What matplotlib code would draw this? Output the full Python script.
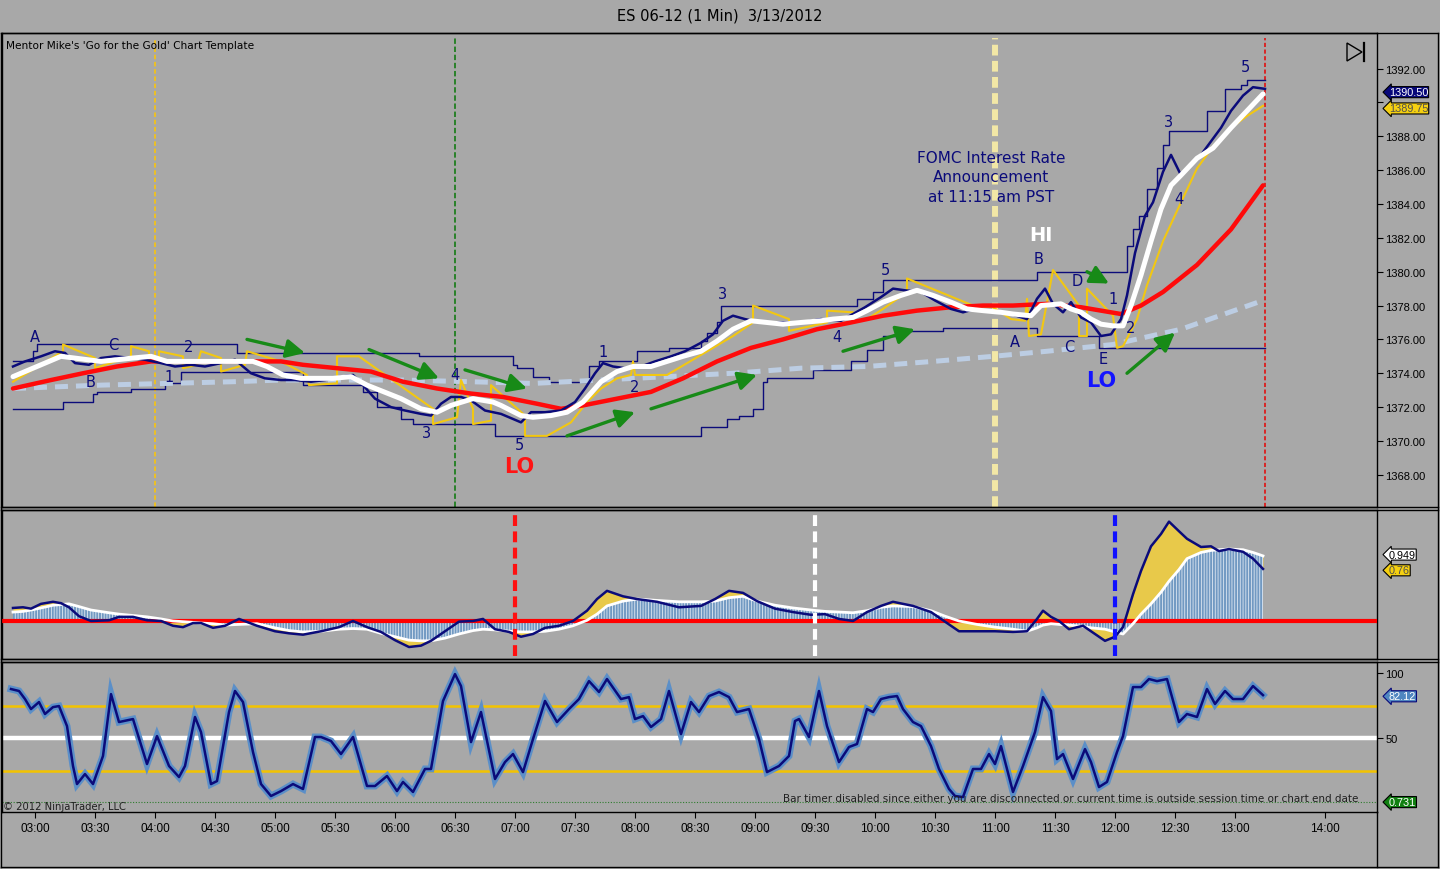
import numpy as np
import matplotlib
matplotlib.use("Agg")
import matplotlib.pyplot as plt
from matplotlib.lines import Line2D
from matplotlib.patches import Polygon

# ---------------- data ----------------
TITLE = "ES 06-12 (1 Min)  3/13/2012"
X_TICKS = ["03:00", "03:30", "04:00", "04:30", "05:00", "05:30", "06:00", "06:30",
           "07:00", "07:30", "08:00", "08:30", "09:00", "09:30", "10:00", "10:30",
           "11:00", "11:30", "12:00", "12:30", "13:00", "14:00"]
PRICE_TICKS = [1368, 1370, 1372, 1374, 1376, 1378, 1380, 1382, 1384, 1386, 1388, 1390, 1392]
HIDDEN_PRICE_LABELS = [1390]   # covered by the last-price tags
STOCH_TICKS = [50, 100]

FAST = [("02:49",1374.4),("02:55",1374.7),("03:03",1375.0),("03:10",1375.3),("03:15",1375.2),("03:20",1374.6),
        ("03:27",1374.5),("03:33",1374.9),("03:40",1375.0),("03:48",1374.9),("03:55",1374.8),("04:03",1374.6),
        ("04:10",1374.4),("04:18",1374.5),("04:25",1374.4),("04:33",1374.6),("04:40",1374.8),("04:48",1374.0),
        ("04:55",1373.7),("05:03",1373.6),("05:10",1373.6),("05:18",1373.5),("05:25",1373.6),("05:33",1373.8),
        ("05:39",1373.9),("05:44",1373.3),("05:50",1372.5),("05:58",1372.0),("06:05",1371.8),("06:13",1371.6),
        ("06:18",1371.5),("06:23",1372.2),("06:28",1372.6),("06:33",1372.6),("06:38",1372.4),("06:45",1371.8),
        ("06:53",1371.6),("06:59",1371.3),("07:03",1371.1),("07:08",1371.7),("07:15",1371.7),("07:23",1371.8),
        ("07:30",1372.3),("07:35",1373.1),("07:40",1374.0),("07:44",1374.6),("07:49",1374.4),("07:55",1374.3),
        ("08:03",1374.4),("08:10",1374.7),("08:18",1375.0),("08:25",1375.3),("08:33",1375.8),("08:39",1376.3),
        ("08:44",1377.1),("08:49",1377.4),("08:55",1377.2),("09:03",1377.0),("09:13",1377.0),("09:23",1377.0),
        ("09:33",1377.2),("09:43",1377.1),("09:49",1377.5),("09:55",1377.9),("10:03",1378.5),("10:09",1379.0),
        ("10:15",1378.9),("10:23",1378.8),("10:30",1378.3),("10:38",1377.8),("10:44",1377.6),("10:50",1377.8),
        ("11:00",1377.6),("11:08",1377.5),("11:16",1377.2),("11:21",1378.4),("11:25",1379.0),("11:29",1378.1),
        ("11:34",1377.6),("11:38",1378.2),("11:43",1377.3),("11:48",1377.0),("11:53",1376.2),("11:58",1376.3),
        ("12:03",1377.2),("12:06",1378.6),("12:10",1381.1),("12:15",1383.3),("12:19",1384.1),("12:24",1385.9),
        ("12:28",1386.9),("12:33",1385.7),("12:38",1386.3),("12:43",1386.9),("12:48",1387.7),("12:53",1388.5),
        ("12:58",1389.5),("13:04",1390.4),("13:09",1390.9),("13:15",1390.8)]

WHITE_MA = [("02:49",1373.8),("03:13",1375.0),("03:33",1374.7),("03:49",1374.9),("03:58",1375.0),("04:06",1374.7),
            ("04:23",1374.7),("04:39",1374.7),("04:49",1374.7),("04:56",1374.4),("05:04",1373.9),("05:13",1373.7),
            ("05:29",1373.7),("05:38",1373.8),("05:46",1373.3),("06:03",1372.5),("06:13",1371.9),("06:21",1371.7),
            ("06:28",1372.1),("06:39",1372.5),("06:49",1372.3),("06:53",1372.1),("07:03",1371.5),("07:09",1371.4),
            ("07:18",1371.5),("07:26",1371.7),("07:34",1372.3),("07:43",1373.5),("07:51",1374.1),("07:59",1374.4),
            ("08:08",1374.4),("08:16",1374.7),("08:24",1375.0),("08:33",1375.3),("08:41",1375.9),("08:49",1376.6),
            ("08:58",1377.1),("09:06",1377.0),("09:14",1376.9),("09:23",1377.0),("09:33",1377.1),("09:39",1377.2),
            ("09:49",1377.3),("09:56",1377.7),("10:04",1378.2),("10:13",1378.6),("10:21",1378.9),("10:29",1378.6),
            ("10:38",1378.2),("10:46",1377.8),("10:54",1377.7),("11:03",1377.6),("11:09",1377.5),("11:18",1377.4),
            ("11:23",1378.0),("11:33",1378.1),("11:38",1377.8),("11:43",1377.6),("11:48",1377.2),("11:53",1376.9),
            ("11:59",1376.8),("12:04",1376.8),("12:08",1378.0),("12:13",1379.8),("12:18",1381.8),("12:23",1383.7),
            ("12:28",1385.1),("12:33",1385.7),("12:41",1386.7),("12:49",1387.3),("12:58",1388.5),("13:06",1389.5),
            ("13:14",1390.5)]

RED_MA = [("02:49",1373.1),("03:08",1373.6),("03:24",1374.0),("03:41",1374.4),("03:58",1374.7),("04:06",1374.7),
          ("04:23",1374.7),("04:39",1374.7),("05:03",1374.7),("05:14",1374.5),("05:31",1374.3),("05:48",1374.1),
          ("06:04",1373.5),("06:21",1373.1),("06:38",1372.8),("06:54",1372.6),("07:11",1372.2),("07:23",1371.9),
          ("07:34",1372.1),("07:51",1372.5),("08:08",1372.9),("08:24",1373.7),("08:41",1374.7),("08:58",1375.5),
          ("09:14",1376.0),("09:31",1376.6),("09:48",1377.0),("10:04",1377.4),("10:21",1377.7),("10:38",1377.9),
          ("10:54",1378.0),("11:09",1378.0),("11:26",1378.1),("11:43",1377.9),("12:03",1377.5),("12:13",1378.0),
          ("12:24",1378.8),("12:41",1380.4),("12:58",1382.5),("13:14",1385.1)]

SLOW_MA = [("02:49",1373.1),("03:33",1373.3),("04:06",1373.4),("04:39",1373.5),("05:03",1373.6),("06:04",1373.6),
           ("06:38",1373.5),("07:09",1373.4),("07:43",1373.6),("08:16",1373.8),("08:49",1374.0),("09:23",1374.3),
           ("09:56",1374.4),("10:29",1374.7),("10:59",1375.0),("11:26",1375.3),("11:59",1375.7),("12:33",1376.6),
           ("13:14",1378.3)]

YELLOW = [("02:49",1373.5),("03:14",1375.3),("03:14",1375.7),("03:30",1374.9),("03:30",1374.3),("03:48",1375.0),
          ("03:48",1375.6),("03:57",1375.3),("03:57",1374.7),("04:02",1374.7),("04:02",1375.3),("04:14",1375.0),
          ("04:14",1374.3),("04:21",1374.5),("04:23",1375.3),("04:33",1374.9),("04:33",1374.1),("04:45",1374.5),
          ("04:46",1375.3),("05:03",1374.7),("05:16",1373.9),("05:17",1373.3),("05:31",1373.4),("05:31",1375.0),
          ("05:42",1375.0),("06:19",1371.9),("06:19",1371.0),("06:31",1371.4),("06:33",1373.6),("06:39",1371.9),
          ("06:39",1371.0),("06:48",1371.2),("06:48",1373.3),("07:05",1371.5),("07:05",1370.3),("07:16",1370.3),
          ("07:28",1371.1),("07:36",1372.3),("07:43",1373.1),("07:51",1373.7),("07:58",1373.9),("07:59",1374.7),
          ("08:00",1373.9),("08:16",1373.9),("08:39",1375.5),("08:49",1376.2),("08:59",1377.0),("08:59",1378.0),
          ("09:17",1377.2),("09:17",1376.5),("09:36",1377.0),("09:36",1377.7),("09:49",1377.6),("09:49",1377.0),
          ("09:56",1377.2),("10:04",1377.8),("10:16",1378.8),("10:16",1379.6),("10:49",1378.0),("10:59",1377.9),
          ("11:08",1377.2),("11:15",1377.1),("11:16",1378.4),("11:17",1376.2),("11:23",1376.3),("11:29",1380.1),
          ("11:42",1378.0),("11:42",1376.2),("11:46",1376.2),("11:46",1379.0),("11:59",1377.4),("12:01",1375.5),
          ("12:04",1375.6),("12:11",1377.2),("12:16",1379.2),("12:24",1381.8),("12:33",1384.1),("12:41",1386.1),
          ("12:49",1387.4),("12:58",1388.5),("13:06",1389.2),("13:14",1389.8)]

UPPER = [("02:49",1374.7),("02:59",1375.3),("03:01",1375.7),("04:41",1375.2),("06:12",1375.0),("06:59",1374.5),
         ("07:01",1374.3),("07:09",1373.8),("07:17",1373.5),("07:37",1374.4),("07:42",1374.7),("08:01",1375.3),
         ("08:17",1375.5),("08:33",1375.9),("08:36",1376.4),("08:41",1377.0),("08:43",1378.0),("09:51",1378.4),
         ("09:59",1378.8),("10:04",1379.5),("11:21",1380.0),("12:06",1381.5),("12:09",1382.5),("12:12",1383.3),
         ("12:16",1384.9),("12:21",1386.1),("12:24",1387.5),("12:27",1388.3),("12:46",1389.5),("12:55",1390.8),
         ("13:03",1391.0),("13:06",1391.3),("13:15",1391.3)]

LOWER = [("02:49",1371.9),("03:14",1372.3),("03:29",1372.8),("03:31",1372.9),("03:48",1373.1),("04:05",1373.4),
         ("04:13",1374.1),("05:14",1373.3),("05:44",1372.9),("05:51",1372.0),("06:03",1371.3),("06:09",1371.0),
         ("06:50",1370.3),("08:33",1370.8),("08:46",1371.3),("08:52",1371.5),("08:59",1371.9),("09:04",1373.5),
         ("09:06",1373.7),("09:29",1374.2),("09:48",1374.7),("09:56",1375.4),("10:04",1376.2),("10:11",1376.5),
         ("10:34",1376.7),("11:21",1376.2),("11:52",1375.5),("13:15",1375.5)]

# (time, macd line, signal line)
MACD = [("02:49",0.19,0.13),("02:54",0.20,0.14),("02:58",0.18,0.16),("03:03",0.25,0.19),("03:09",0.28,0.23),
        ("03:13",0.26,0.24),("03:17",0.20,0.25),("03:22",0.07,0.21),("03:28",0.00,0.16),("03:37",0.01,0.12),
        ("03:42",0.06,0.10),("03:49",0.06,0.08),("03:56",0.01,0.06),("04:03",0.00,0.03),("04:09",-0.07,0.00),
        ("04:14",-0.09,-0.01),("04:19",-0.03,-0.02),("04:23",-0.03,-0.03),("04:29",-0.10,-0.04),("04:35",-0.07,-0.06),
        ("04:42",0.03,-0.05),("04:51",-0.07,-0.04),("05:00",-0.15,-0.10),("05:07",-0.18,-0.14),("05:14",-0.20,-0.16),
        ("05:23",-0.15,-0.15),("05:32",-0.09,-0.12),("05:39",0.00,-0.11),("05:46",-0.09,-0.12),("05:53",-0.16,-0.18),
        ("06:00",-0.28,-0.23),("06:07",-0.38,-0.28),("06:13",-0.36,-0.29),("06:18",-0.29,-0.29),("06:25",-0.15,-0.25),
        ("06:32",-0.01,-0.19),("06:39",0.00,-0.14),("06:44",0.03,-0.12),("06:50",-0.12,-0.13),("06:57",-0.16,-0.15),
        ("07:03",-0.23,-0.16),("07:09",-0.19,-0.16),("07:15",-0.10,-0.15),("07:22",-0.07,-0.12),("07:29",0.00,-0.07),
        ("07:36",0.15,0.01),("07:41",0.32,0.10),("07:46",0.44,0.22),("07:54",0.36,0.29),("08:01",0.32,0.32),
        ("08:11",0.28,0.30),("08:22",0.20,0.28),("08:33",0.22,0.28),("08:40",0.32,0.29),("08:47",0.44,0.34),
        ("08:54",0.41,0.36),("09:01",0.29,0.29),("09:10",0.18,0.23),("09:19",0.13,0.19),("09:28",0.09,0.16),
        ("09:35",0.10,0.14),("09:42",0.03,0.13),("09:49",0.00,0.12),("09:56",0.13,0.15),("10:03",0.22,0.20),
        ("10:09",0.28,0.22),("10:19",0.22,0.21),("10:28",0.13,0.15),("10:35",-0.01,0.07),("10:42",-0.15,0.00),
        ("10:51",-0.15,-0.05),("11:00",-0.15,-0.09),("11:09",-0.16,-0.12),("11:16",-0.15,-0.15),("11:21",0.03,-0.10),
        ("11:24",0.15,-0.06),("11:28",0.06,-0.04),("11:32",0.00,-0.05),("11:37",-0.12,-0.06),("11:44",-0.07,-0.08),
        ("11:48",-0.15,-0.10),("11:55",-0.29,-0.12),("12:00",-0.23,-0.16),("12:04",-0.09,-0.19),("12:09",0.39,-0.04),
        ("12:13",0.73,0.10),("12:18",1.09,0.25),("12:23",1.27,0.42),("12:27",1.45,0.58),("12:32",1.31,0.75),
        ("12:36",1.20,0.91),("12:43",1.08,1.00),("12:48",1.09,1.03),("12:52",1.02,1.04),("12:57",1.05,1.05),
        ("13:04",1.01,1.04),("13:09",0.91,1.00),("13:14",0.76,0.95)]

STOCH = [("02:48",87.7),("02:52",86.2),("02:55",80.0),("02:58",72.3),("03:02",77.7),("03:05",68.5),("03:09",73.8),
         ("03:12",74.6),("03:16",59.2),("03:19",28.5),("03:21",14.6),("03:25",22.3),("03:29",14.6),("03:34",36.2),
         ("03:38",83.8),("03:42",62.3),("03:49",64.6),("03:56",30.0),("04:01",51.5),("04:07",28.5),("04:12",20.0),
         ("04:15",28.5),("04:20",66.2),("04:23",54.6),("04:28",14.6),("04:31",16.9),("04:37",70.0),("04:40",86.2),
         ("04:44",77.7),("04:49",39.2),("04:53",14.6),("04:58",5.4),("05:03",9.2),("05:09",14.6),("05:14",10.8),
         ("05:20",50.8),("05:23",50.8),("05:28",47.7),("05:33",37.7),("05:39",50.8),("05:46",13.1),("05:50",13.1),
         ("05:56",20.8),("06:01",9.2),("06:04",16.2),("06:09",8.5),("06:15",26.2),("06:18",26.2),("06:24",78.5),
         ("06:30",99.2),("06:33",90.0),("06:38",46.9),("06:43",70.0),("06:50",18.5),("06:55",31.5),("06:59",37.7),
         ("07:04",23.8),("07:09",49.2),("07:15",78.5),("07:21",62.3),("07:27",72.3),("07:32",80.0),("07:37",93.8),
         ("07:42",85.4),("07:46",95.4),("07:53",80.0),("07:57",81.5),("08:00",64.6),("08:04",66.9),("08:08",58.5),
         ("08:13",64.6),("08:17",86.2),("08:23",53.0),("08:28",77.7),("08:32",70.0),("08:37",82.3),("08:42",85.4),
         ("08:47",81.5),("08:51",70.0),("08:57",72.3),("09:02",49.2),("09:06",23.8),("09:12",28.5),("09:17",36.2),
         ("09:20",63.1),("09:22",64.6),("09:27",50.8),("09:32",86.2),("09:36",59.2),("09:42",31.5),("09:47",43.1),
         ("09:51",45.4),("09:56",72.3),("09:59",70.0),("10:03",80.0),("10:07",81.5),("10:11",82.3),("10:14",72.3),
         ("10:19",62.3),("10:23",59.2),("10:28",43.8),("10:32",26.2),("10:37",10.8),("10:40",5.4),("10:44",4.6),
         ("10:49",26.2),("10:53",26.2),("10:57",37.7),("11:00",30.0),("11:03",43.8),("11:09",8.5),("11:14",28.5),
         ("11:20",54.6),("11:24",81.5),("11:28",70.8),("11:31",33.8),("11:34",37.7),("11:39",18.5),("11:45",41.5),
         ("11:48",31.5),("11:52",12.3),("11:56",16.2),("12:01",39.2),("12:04",51.5),("12:09",89.2),("12:13",89.2),
         ("12:17",95.4),("12:21",93.8),("12:26",95.4),("12:32",62.3),("12:36",68.5),("12:41",66.2),("12:46",87.7),
         ("12:50",76.2),("12:55",86.2),("12:59",80.0),("13:04",80.0),("13:09",90.0),("13:14",83.0)]

STOCH_LEVELS = [25, 50, 75]
TIMER_LEVEL = 0.731

WAVE_LABELS = [("A","03:00",1376.2),("B","03:28",1373.5),("C","03:39",1375.7),("1","04:07",1373.8),
               ("2","04:17",1375.6),("3","06:16",1370.5),("4","06:30",1373.9),("5","07:02",1369.8),
               ("1","07:44",1375.3),("2","08:00",1373.2),("3","08:44",1378.7),("4","09:41",1376.2),
               ("5","10:05",1380.1),("B","11:22",1380.8),("A","11:10",1375.9),("C","11:37",1375.6),
               ("D","11:41",1379.5),("E","11:54",1374.9),("1","11:59",1378.4),("2","12:08",1376.7),
               ("3","12:27",1388.9),("4","12:32",1384.3),("5","13:05",1392.1)]

ARROWS = [("04:46",1376.0,"05:15",1375.2),("05:47",1375.4,"06:22",1373.7),("06:35",1374.2,"07:06",1373.1),
          ("07:26",1370.3,"08:00",1371.7),("08:08",1371.9,"09:01",1373.9),("09:44",1375.3,"10:20",1376.6),
          ("11:46",1380.0,"11:57",1379.3),("12:06",1374.0,"12:30",1376.4)]

TOP_VLINES = ["04:00", "06:30", "11:00", "13:15"]
MID_VLINES = ["07:00", "09:30", "12:00"]

LAST_PRICE = 1390.50
LAST_YELLOW = 1389.75
LAST_SIGNAL = 0.949
LAST_MACD = 0.76
LAST_STOCH = 82.12

# ---------------- helpers ----------------
def slot(t):
    h, m = map(int, t.split(":"))
    v = (h - 3) * 60 + m
    if h * 60 + m >= 13 * 60 + 30:   # session halt 13:15-13:30 not shown
        v -= 15
    return v

def xy(series):
    return [slot(t) for t, _ in series], [v for _, v in series]

BG = "#a8a8a8"
NAVY = "#0b0b7a"
W, H = 1440, 870

def fx(px):
    return px / W

def fy(py):
    return 1 - py / H

plt.rcParams["font.family"] = ["DejaVu Sans"]
plt.rcParams["hatch.linewidth"] = 0.6
fig = plt.figure(figsize=(14.4, 8.7), dpi=100, facecolor=BG)

ax1 = fig.add_axes([fx(2), fy(508), fx(1375), 474 / H])
ax2 = fig.add_axes([fx(2), fy(660), fx(1375), 149 / H], sharex=ax1)
ax3 = fig.add_axes([fx(2), fy(813), fx(1375), 150 / H], sharex=ax1)

for ax in (ax1, ax2, ax3):
    ax.set_facecolor(BG)
    for s in ax.spines.values():
        s.set_color("black")
        s.set_linewidth(1.0)

ax1.set_xlim(-16.5, 671)
ax1.set_ylim(1366.1, 1394.1)
ax2.set_ylim(-0.555, 1.62)
ax3.set_ylim(-6.9, 108.5)

# ---------------- top panel ----------------
ut, uv = xy(UPPER)
lt, lv = xy(LOWER)
ax1.step(ut, uv, where="post", color=NAVY, lw=1.0, zorder=2)
ax1.step(lt, lv, where="post", color=NAVY, lw=1.0, zorder=2)

st, sv = xy(SLOW_MA)
ax1.plot(st, sv, color="#bccde3", lw=3.6, dashes=(2.6, 1.6), zorder=3, solid_capstyle="butt")

yt, yv = xy(YELLOW)
ax1.plot(yt, yv, color="#f2c712", lw=1.5, zorder=4)

rt, rv = xy(RED_MA)
ax1.plot(rt, rv, color="#ff0a0a", lw=3.2, zorder=5, solid_capstyle="round")

ft, fv = xy(FAST)
ax1.plot(ft, fv, color=NAVY, lw=1.8, zorder=6)

wt, wv = xy(WHITE_MA)
ax1.plot(wt, wv, color="white", lw=3.6, zorder=7, solid_capstyle="round")

vstyles = [dict(color="#f3c21a", lw=1.3, dashes=(2.5, 1.5)),
           dict(color="#1f7f1f", lw=1.3, dashes=(3, 1.5)),
           dict(color="#f2e7a6", lw=4.3, dashes=(1.8, 0.9)),
           dict(color="#e01010", lw=1.2, dashes=(2.5, 1.5))]
for t, sty in zip(TOP_VLINES, vstyles):
    ax1.axvline(slot(t), ymin=0.0, ymax=0.99, zorder=1.5, **sty)

for txt, t, p in WAVE_LABELS:
    ax1.text(slot(t), p, txt, color=NAVY, fontsize=10.5, ha="center", va="center", zorder=9)

ax1.text(slot("07:02"), 1368.5, "LO", color="#ff1414", fontsize=15, fontweight="bold",
         ha="center", va="center", zorder=9)
ax1.text(slot("11:53"), 1373.6, "LO", color="#1414ff", fontsize=15, fontweight="bold",
         ha="center", va="center", zorder=9)
ax1.text(slot("11:23"), 1382.2, "HI", color="white", fontsize=14, fontweight="bold",
         ha="center", va="center", zorder=9)
ax1.text(slot("10:58"), 1385.6, "FOMC Interest Rate\nAnnouncement\nat 11:15 am PST", color=NAVY,
         fontsize=11, ha="center", va="center", linespacing=1.4, zorder=9)

for t0, p0, t1, p1 in ARROWS:
    ax1.annotate("", xy=(slot(t1), p1), xytext=(slot(t0), p0),
                 arrowprops=dict(arrowstyle="-|>,head_length=0.7,head_width=0.35",
                                 color="#178a17", lw=2.4, mutation_scale=16, shrinkA=0, shrinkB=0),
                 zorder=8)

ax1.yaxis.tick_right()
ax1.set_yticks(PRICE_TICKS)
ax1.set_yticklabels(["" if v in HIDDEN_PRICE_LABELS else f"{v:.2f}" for v in PRICE_TICKS],
                    fontfamily="Liberation Sans")
ax1.tick_params(axis="y", length=4, pad=2, labelsize=8, colors="black")
ax1.tick_params(axis="x", bottom=False, labelbottom=False)

def tag(ax, val, txt, fc, tc, ec="black", dy=0.0):
    ax.annotate(txt, xy=(1.0085, val), xycoords=ax.get_yaxis_transform(),
                xytext=(0, dy), textcoords="offset points", ha="left", va="center",
                fontsize=7.8, color=tc, fontfamily="Liberation Sans", zorder=10,
                annotation_clip=False,
                bbox=dict(boxstyle="larrow,pad=0.05", fc=fc, ec=ec, lw=0.8))

tag(ax1, LAST_PRICE, f"{LAST_PRICE:.2f}", "#08087a", "white", dy=1.3)
tag(ax1, LAST_YELLOW, f"{LAST_YELLOW:.2f}", "#f5d010", "#505050", dy=-1.3)

ax1.text(0.003, 0.975, "Mentor Mike's 'Go for the Gold' Chart Template", transform=ax1.transAxes,
         fontsize=7.6, color="black", ha="left", va="center")

# ---------------- middle panel ----------------
mt = [slot(r[0]) for r in MACD]
mv = np.array([r[1] for r in MACD])
sg = np.array([r[2] for r in MACD])
ax2.fill_between(mt, mv, sg, color="#e8c94a", lw=0, zorder=2)
ax2.fill_between(mt, 0, sg, facecolor="#7199c2", edgecolor="#dfe8f2", hatch="||||||", lw=0, zorder=3)
ax2.axhline(0, color="#ff0000", lw=3.0, zorder=4)
ax2.plot(mt, sg, color="white", lw=2.0, zorder=5)
ax2.plot(mt, mv, color=NAVY, lw=1.8, zorder=6)
for t, c in zip(MID_VLINES, ["#ff1010", "white", "#1010ff"]):
    ax2.axvline(slot(t), ymin=0.02, ymax=0.97, color=c, lw=3.0, dashes=(2.6, 1.3), zorder=7)
ax2.tick_params(axis="both", left=False, right=False, bottom=False, labelleft=False, labelbottom=False)
tag(ax2, LAST_SIGNAL, f"{LAST_SIGNAL:.3f}", "white", "black", dy=1.0)
tag(ax2, LAST_MACD, f"{LAST_MACD:.2f}", "#f5d010", "#505050", dy=-1.0)

# ---------------- bottom panel ----------------
kt, kv = xy(STOCH)
for lev in STOCH_LEVELS:
    if lev == 50:
        ax3.axhline(lev, color="white", lw=3.2, zorder=2)
    else:
        ax3.axhline(lev, color="#f3c300", lw=1.8, zorder=2)
ax3.axhline(TIMER_LEVEL, color="#2e7d2e", lw=0.8, ls=(0, (1, 1.5)), zorder=2)
ax3.plot(kt, kv, color="#5b8fc8", lw=5.0, zorder=3, solid_joinstyle="miter")
ax3.plot(kt, kv, color=NAVY, lw=1.8, zorder=4)
ax3.yaxis.tick_right()
ax3.set_yticks(STOCH_TICKS)
ax3.set_yticklabels([str(v) for v in STOCH_TICKS], fontfamily="Liberation Sans")
ax3.tick_params(axis="y", length=4, pad=2, labelsize=8)
ax3.set_xticks([slot(t) for t in X_TICKS])
ax3.set_xticklabels(X_TICKS, fontfamily="Liberation Sans")
ax3.tick_params(axis="x", length=4, pad=3, labelsize=8.5)
tag(ax3, LAST_STOCH, f"{LAST_STOCH:.2f}", "#4f86c0", "white", ec="#08087a")
tag(ax3, TIMER_LEVEL, f"{TIMER_LEVEL:.3f}", "#118011", "white")
ax3.text(0.001, 0.04, "© 2012 NinjaTrader, LLC", transform=ax3.transAxes, fontsize=7.2,
         color="#202020", ha="left", va="center")
ax3.text(0.9865, 0.09, "Bar timer disabled since either you are disconnected or current time is outside "
         "session time or chart end date", transform=ax3.transAxes, fontsize=7.5, color="#202020",
         ha="right", va="center", zorder=8)

# ---------------- frame, title, icon ----------------
fig.text(0.5, fy(16), TITLE, ha="center", va="center", fontsize=10.5, color="black")
for ypx in (34, 508, 511, 660, 663, 868):
    fig.add_artist(Line2D([fx(1), fx(1438)], [fy(ypx), fy(ypx)], color="black", lw=1.0))
for xpx in (1, 1438):
    fig.add_artist(Line2D([fx(xpx), fx(xpx)], [fy(34), fy(868)], color="black", lw=1.0))
fig.add_artist(Line2D([fx(1377), fx(1377)], [fy(813), fy(868)], color="black", lw=1.0))
fig.add_artist(Polygon([(fx(1347), fy(44)), (fx(1347), fy(62)), (fx(1362), fy(53))], closed=True,
                       fill=False, ec="black", lw=1.0, transform=fig.transFigure))
fig.add_artist(Line2D([fx(1364), fx(1364)], [fy(44), fy(62)], color="black", lw=1.6))

fig.savefig("out.png", dpi=100, facecolor=BG)
